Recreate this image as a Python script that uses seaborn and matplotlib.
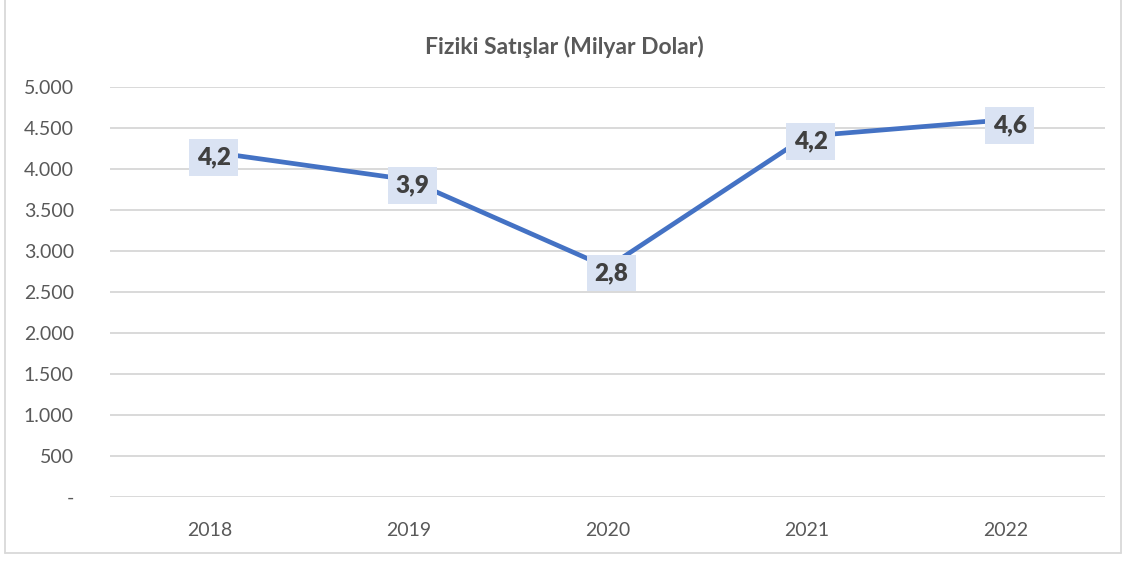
import matplotlib
matplotlib.use("Agg")
import matplotlib.pyplot as plt
import seaborn as sns
import pandas as pd
from matplotlib.lines import Line2D
from matplotlib.ticker import FuncFormatter

# Data
years = ["2018", "2019", "2020", "2021", "2022"]
sales = [4210, 3870, 2800, 4400, 4600]
point_labels = ["4,2", "3,9", "2,8", "4,2", "4,6"]
y_ticks = [0, 500, 1000, 1500, 2000, 2500, 3000, 3500, 4000, 4500, 5000]
title = "Fiziki Satışlar (Milyar Dolar)"

df = pd.DataFrame({"year": years, "sales": sales})

sns.set_theme(style="white")
plt.rcParams["font.family"] = ["Lato", "DejaVu Sans"]

fig = plt.figure(figsize=(11.28, 5.62), dpi=100)
ax = fig.add_axes([110 / 1128, 1 - 497 / 562, 995 / 1128, 410 / 562])

sns.lineplot(data=df, x="year", y="sales", ax=ax, color="#4472c4",
             linewidth=3.4, sort=False, solid_capstyle="round")

for i, lab in enumerate(point_labels):
    ax.annotate(lab, (i, sales[i]), xytext=(3, -4), textcoords="offset points",
                ha="center", va="center", fontsize=17.5, fontweight="heavy",
                color="#404040", zorder=5,
                bbox=dict(boxstyle="square,pad=0.3", fc="#dae3f3", ec="none"))

ax.set_xlim(-0.5, len(years) - 0.5)
ax.set_ylim(0, 5000)
ax.set_yticks(y_ticks)
ax.yaxis.set_major_formatter(FuncFormatter(
    lambda v, p: "-" if v == 0 else f"{int(v):,}".replace(",", ".")))
ax.grid(axis="y", color="#d9d9d9", linewidth=1.4)
ax.grid(axis="x", visible=False)
ax.set_axisbelow(True)
for s in ax.spines.values():
    s.set_visible(False)
ax.tick_params(axis="y", length=0, pad=26, labelsize=14, labelcolor="#595959")
ax.tick_params(axis="x", length=0, pad=18, labelsize=14, labelcolor="#595959")
ax.set_xlabel("")
ax.set_ylabel("")

fig.text(0.5, 1 - 47 / 562, title, ha="center", va="center", fontsize=16.5,
         fontweight="bold", color="#595959")

# chart frame
frame_col = "#d9d9d9"
x0, x1, yb = 5 / 1128, 1121 / 1128, 1 - 553 / 562
fig.add_artist(Line2D([x0, x0], [yb, 1.01], color=frame_col, lw=1.3, transform=fig.transFigure))
fig.add_artist(Line2D([x1, x1], [yb, 1.01], color=frame_col, lw=1.3, transform=fig.transFigure))
fig.add_artist(Line2D([x0, x1], [yb, yb], color=frame_col, lw=1.3, transform=fig.transFigure))

fig.savefig("out.png", dpi=100, facecolor="white")
